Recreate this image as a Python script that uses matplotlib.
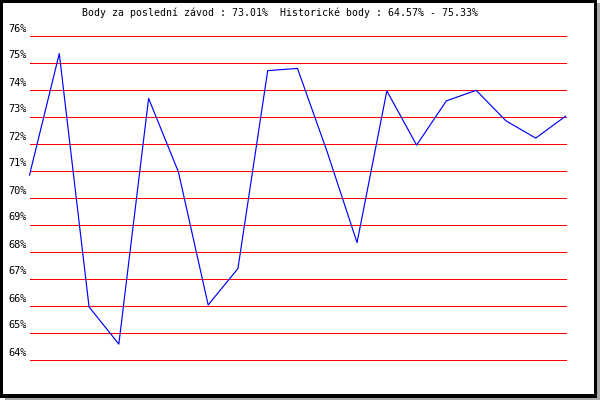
import matplotlib
matplotlib.use("Agg")
import matplotlib.pyplot as plt
from matplotlib.patches import Rectangle

# body v jednotlivych zavodech (%)
races = list(range(19))
points = [70.83, 75.33, 65.95, 64.57, 73.67, 70.95, 66.02, 67.37, 74.70, 74.78,
          71.68, 68.33, 73.95, 71.94, 73.58, 73.97, 72.84, 72.20, 73.01]
y_ticks = list(range(64, 77))
y_labels = [f"{v}%" for v in y_ticks]
title = "Body za poslední závod : 73.01%  Historické body : 64.57% - 75.33%"

W, H = 600, 400
fig = plt.figure(figsize=(6, 4), dpi=100)

def px_rect(x0, y0, x1, y1, **kw):
    # pixel coords measured from the top-left corner
    r = Rectangle((x0 / W, 1 - y1 / H), (x1 - x0) / W, (y1 - y0) / H,
                  transform=fig.transFigure, **kw)
    fig.add_artist(r)

# frame with shadow
px_rect(5, 3, 600, 400, facecolor="#a8a8a8", edgecolor="none", zorder=-12)
px_rect(0, 0, 597, 398, facecolor="black", edgecolor="none", zorder=-11)
px_rect(3, 3, 594, 394, facecolor="white", edgecolor="none", zorder=-10)

# plot area in pixels, gridlines on pixel centres
left, right, top, bottom = 29.5, 565.5, 35.5, 359.5
ax = fig.add_axes([left / W, 1 - bottom / H, (right - left) / W, (bottom - top) / H])
ax.set_facecolor("none")
ax.set_xlim(0, 18)
ax.set_ylim(64, 76)
ax.axis("off")

for v, lab in zip(y_ticks, y_labels):
    ax.axhline(v, color="red", lw=0.72, zorder=1, clip_on=False)
    ax.annotate(lab, xy=(0, v), xycoords="data", xytext=(-21, 2), textcoords="offset pixels",
                fontsize=7.4, family="DejaVu Sans Mono", va="bottom", ha="left", annotation_clip=False)

ax.plot(races, points, color="#0000ff", lw=0.85, zorder=2, clip_on=False)

fig.text(82 / W, 1 - 13 / H, title, fontsize=7.15, family="DejaVu Sans Mono", va="center", ha="left")

fig.savefig("out.png", dpi=100)
